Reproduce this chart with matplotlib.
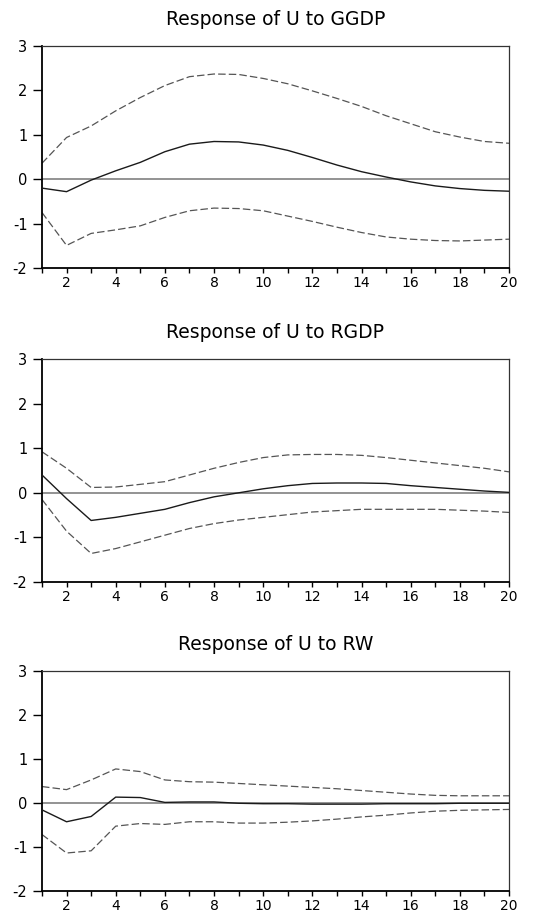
import matplotlib
matplotlib.use("Agg")
import matplotlib.pyplot as plt
from matplotlib.ticker import MultipleLocator

periods = list(range(1, 21))

titles = ["Response of U to GGDP", "Response of U to RGDP", "Response of U to RW"]

ggdp_resp = [-0.20, -0.28, -0.02, 0.19, 0.38, 0.62, 0.79, 0.85, 0.84, 0.77,
             0.65, 0.49, 0.32, 0.17, 0.05, -0.06, -0.15, -0.21, -0.25, -0.27]
ggdp_upper = [0.36, 0.94, 1.20, 1.54, 1.84, 2.11, 2.31, 2.37, 2.36, 2.27,
              2.15, 1.99, 1.82, 1.64, 1.43, 1.25, 1.07, 0.95, 0.85, 0.81]
ggdp_lower = [-0.75, -1.49, -1.22, -1.14, -1.05, -0.86, -0.71, -0.65, -0.66, -0.71,
              -0.83, -0.95, -1.08, -1.20, -1.30, -1.35, -1.38, -1.39, -1.37, -1.35]

rgdp_resp = [0.40, -0.13, -0.62, -0.55, -0.46, -0.37, -0.22, -0.09, 0.00, 0.09,
             0.16, 0.21, 0.22, 0.22, 0.21, 0.16, 0.12, 0.08, 0.04, 0.01]
rgdp_upper = [0.92, 0.55, 0.12, 0.13, 0.19, 0.25, 0.40, 0.55, 0.68, 0.79,
              0.85, 0.86, 0.86, 0.84, 0.79, 0.73, 0.67, 0.61, 0.55, 0.47]
rgdp_lower = [-0.15, -0.86, -1.36, -1.25, -1.10, -0.95, -0.80, -0.69, -0.61, -0.55,
              -0.49, -0.43, -0.40, -0.37, -0.37, -0.37, -0.37, -0.39, -0.41, -0.44]

rw_resp = [-0.16, -0.43, -0.31, 0.13, 0.12, 0.01, 0.02, 0.02, -0.01, -0.02,
           -0.02, -0.03, -0.03, -0.03, -0.02, -0.02, -0.02, -0.01, -0.01, -0.01]
rw_upper = [0.37, 0.30, 0.52, 0.77, 0.71, 0.52, 0.48, 0.47, 0.44, 0.41,
            0.38, 0.35, 0.32, 0.28, 0.24, 0.20, 0.17, 0.16, 0.16, 0.16]
rw_lower = [-0.72, -1.14, -1.09, -0.53, -0.47, -0.49, -0.43, -0.43, -0.46, -0.46,
            -0.44, -0.41, -0.37, -0.32, -0.28, -0.23, -0.19, -0.17, -0.16, -0.15]

panels = [
    (ggdp_resp, ggdp_upper, ggdp_lower),
    (rgdp_resp, rgdp_upper, rgdp_lower),
    (rw_resp, rw_upper, rw_lower),
]

plt.rcParams["font.family"] = "DejaVu Sans"
plt.rcParams["axes.unicode_minus"] = False

fig = plt.figure(figsize=(5.43, 9.17), dpi=100)

boxes = [
    (0.0773, 0.7077, 0.8601, 0.2421),
    (0.0773, 0.3653, 0.8601, 0.2432),
    (0.0773, 0.0285, 0.8601, 0.2400),
]

for box, title, (resp, upper, lower) in zip(boxes, titles, panels):
    ax = fig.add_axes(box)
    ax.axhline(0, color="#808080", lw=1.2, zorder=1)
    ax.plot(periods, upper, color="#555555", lw=0.9, dashes=(6, 2.5), zorder=2)
    ax.plot(periods, lower, color="#555555", lw=0.9, dashes=(6, 2.5), zorder=2)
    ax.plot(periods, resp, color="#1a1a1a", lw=1.0, zorder=3)

    ax.set_xlim(1, 20)
    ax.set_ylim(-2, 3)
    ax.xaxis.set_minor_locator(MultipleLocator(1))
    ax.yaxis.set_major_locator(MultipleLocator(1))
    ax.set_xticks(range(2, 21, 2))

    ax.tick_params(axis="x", which="major", length=3.5, width=1.0, pad=2, labelsize=10)
    ax.tick_params(axis="x", which="minor", length=3.5, width=1.0)
    ax.tick_params(axis="y", length=6.5, width=1.0, pad=4, labelsize=10.5)
    ax.tick_params(top=False, right=False)

    for side in ["left", "bottom"]:
        ax.spines[side].set_linewidth(1.3)
        ax.spines[side].set_color("black")
    for side in ["top", "right"]:
        ax.spines[side].set_linewidth(0.9)
        ax.spines[side].set_color("#333333")

    ax.set_title(title, fontsize=13.5, pad=15)

fig.savefig("out.png", dpi=100)
